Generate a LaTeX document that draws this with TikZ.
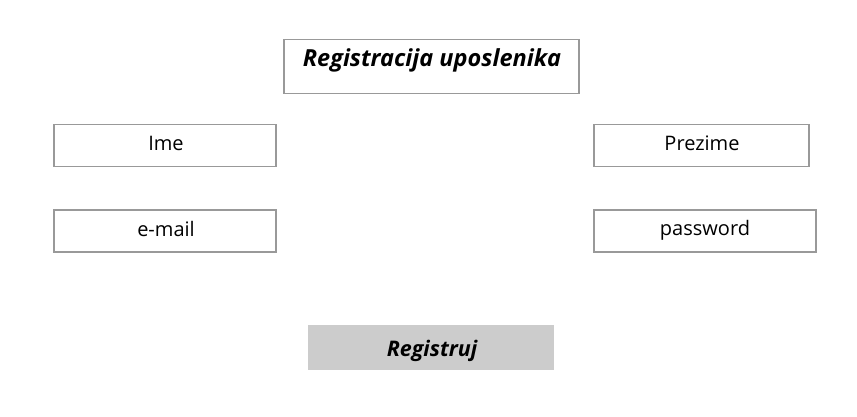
\documentclass[tikz,border=0pt]{standalone}
\usepackage{fontspec}
\setmainfont{Open Sans}
\begin{document}
\begin{tikzpicture}[x=1pt,y=-1pt,
  field/.style={draw=black!40, line width=1.5pt, fill=white, inner sep=0pt, anchor=north west},
  lbl/.style={inner sep=0pt, anchor=base, font=\fontsize{20}{24}\selectfont},
  btn/.style={fill=black!20, draw=none, inner sep=0pt, anchor=north west},
  ttl/.style={inner sep=0pt, anchor=base, font=\fontsize{23.5}{28}\selectfont\bfseries\itshape},
  btnt/.style={inner sep=0pt, anchor=base, font=\fontsize{21.5}{26}\selectfont\bfseries\itshape}]
\useasboundingbox (0,0) rectangle (857,417);
\node[field, minimum width=295pt, minimum height=54pt] (title) at (283,39) {};
\node[ttl] (titletext) at (432,67) {Registracija uposlenika};
\node[field, minimum width=222pt, minimum height=42pt] (ime) at (53,124) {};
\node[lbl] (imet) at (166,151) {Ime};
\node[field, minimum width=215pt, minimum height=42pt] (prezime) at (593,124) {};
\node[lbl] (prezimet) at (702,151) {Prezime};
\node[field, minimum width=222pt, minimum height=42pt] (email) at (53,209) {};
\node[lbl] (emailt) at (166,236) {e-mail};
\node[field, minimum width=222pt, minimum height=42pt] (password) at (593,209) {};
\node[lbl] (passwordt) at (705,235) {password};
\node[btn, minimum width=246pt, minimum height=45pt] (reg) at (308,325) {};
\node[btnt] (regt) at (432,356) {Registruj};
\end{tikzpicture}
\end{document}
